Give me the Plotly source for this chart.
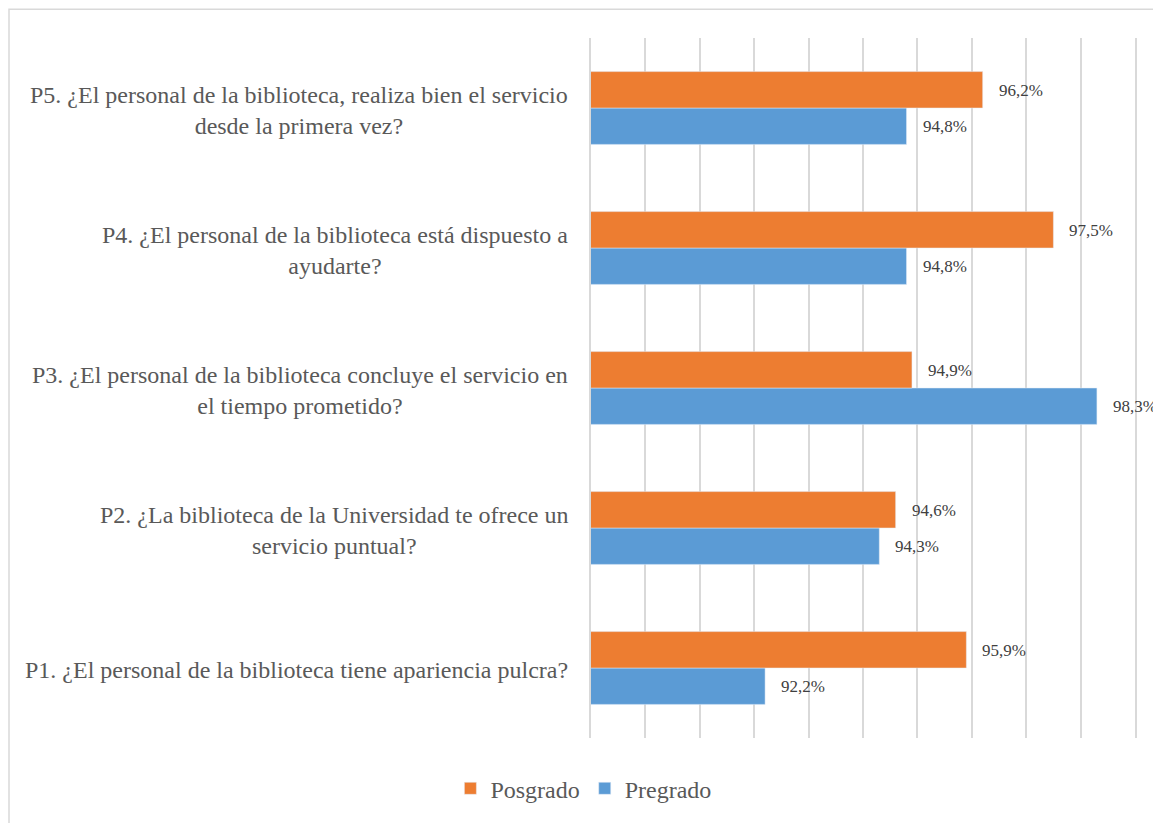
import plotly.graph_objects as go

# Survey items (bottom to top) and satisfaction percentages per group
categories = ["P1", "P2", "P3", "P4", "P5"]
question_labels = [
    "P1. ¿El personal de la biblioteca tiene apariencia pulcra?",
    "P2. ¿La biblioteca de la Universidad te ofrece un<br>servicio puntual?",
    "P3. ¿El personal de la biblioteca concluye el servicio en<br>el tiempo prometido?",
    "P4. ¿El personal de la biblioteca está dispuesto a<br>ayudarte?",
    "P5. ¿El personal de la biblioteca, realiza bien el servicio<br>desde la primera vez?",
]
pregrado = [92.2, 94.3, 98.3, 94.8, 94.8]
posgrado = [95.9, 94.6, 94.9, 97.5, 96.2]

BLUE = "#5B9BD5"
ORANGE = "#ED7D31"
TEXT = "#595959"
GRID = "#D9D9D9"
SERIF = "Liberation Serif"

W, H = 1153, 823
L, R, T, B = 591, 18, 38, 81
PW, PH = W - L - R, H - T - B

fig = go.Figure()
fig.add_trace(go.Bar(name="Pregrado", y=categories, x=pregrado, orientation="h",
                     marker=dict(color=BLUE)))
fig.add_trace(go.Bar(name="Posgrado", y=categories, x=posgrado, orientation="h",
                     marker=dict(color=ORANGE)))


def pct(v):
    return f"{v:.1f}%".replace(".", ",")


annotations = []
# value labels beside each bar end (Pregrado lower half, Posgrado upper half)
for cat, v in zip(categories, pregrado):
    annotations.append(dict(x=v, y=cat, xref="x", yref="y", text=pct(v),
                            showarrow=False, xanchor="left", yanchor="middle",
                            xshift=14, yshift=-18,
                            font=dict(family=SERIF, size=17, color="#404040")))
for cat, v in zip(categories, posgrado):
    annotations.append(dict(x=v, y=cat, xref="x", yref="y", text=pct(v),
                            showarrow=False, xanchor="left", yanchor="middle",
                            xshift=14, yshift=18,
                            font=dict(family=SERIF, size=17, color="#404040")))
# centered, wrapped question labels to the left of the plot
for cat, lab in zip(categories, question_labels):
    annotations.append(dict(x=0, y=cat, xref="paper", yref="y", text=lab,
                            showarrow=False, xanchor="right", yanchor="middle",
                            xshift=-21, yshift=-2, align="center",
                            font=dict(family=SERIF, size=24, color=TEXT)))

fig.update_layout(
    width=W, height=H,
    margin=dict(l=L, r=R, t=T, b=B),
    paper_bgcolor="white", plot_bgcolor="white",
    barmode="group", bargap=0.48, bargroupgap=0,
    showlegend=True,
    legend=dict(orientation="h", x=-0.014, xanchor="center",
                y=(-(793 - (T + PH)) / PH), yanchor="middle",
                traceorder="reversed",
                font=dict(family=SERIF, size=24, color=TEXT)),
    xaxis=dict(range=[89, 99], dtick=1, showticklabels=False, showgrid=True,
               gridcolor=GRID, gridwidth=1.5, zeroline=False, showline=False,
               ticks=""),
    # left/right axis lines stand in for the gridlines at the range edges
    yaxis=dict(showticklabels=False, showgrid=False, zeroline=False,
               showline=True, mirror=True, linecolor=GRID, linewidth=1.5,
               layer="below traces", ticks=""),
    annotations=annotations,
    shapes=[dict(type="rect", xref="paper", yref="paper",
                 x0=(9 - L) / PW, x1=1.2, y0=-0.3, y1=(T + PH - 9) / PH,
                 line=dict(color=GRID, width=1.5), layer="below")],
)

fig.write_html("out.html")
